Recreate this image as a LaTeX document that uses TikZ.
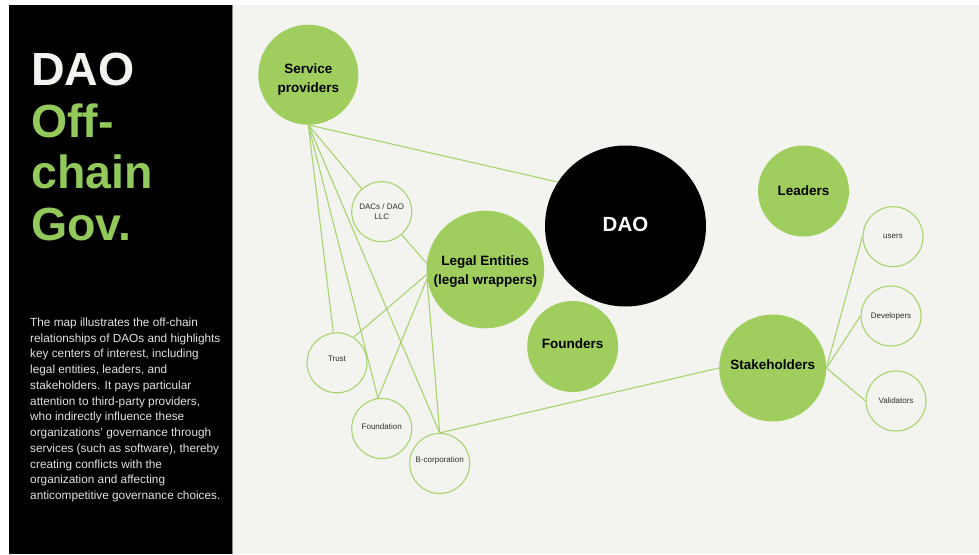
\documentclass[tikz,border=0pt]{standalone}
\usepackage{fontspec}
\setmainfont{Liberation Sans}
\definecolor{bg}{HTML}{F3F3EF}
\definecolor{grn}{HTML}{9FCE5F}
\definecolor{lnk}{HTML}{A8D46F}
\definecolor{ttlgrn}{HTML}{93C95B}
\definecolor{ttlwhite}{HTML}{F2F2EE}
\definecolor{bodygray}{HTML}{E2E2E2}
\definecolor{txtgray}{HTML}{2E2E2E}
\definecolor{sepgray}{HTML}{8A8A8A}
\newcommand{\rb}[2]{\raisebox{#1}[0pt][0pt]{#2}}
\begin{document}
\begin{tikzpicture}[x=1pt,y=-1pt,
  big/.style={circle, fill=grn, inner sep=0pt, text=black, align=center,
    font=\bfseries\fontsize{13.5}{19}\selectfont},
  small/.style={circle, draw=lnk, line width=1.1pt, fill=bg, minimum size=60pt,
    inner sep=0pt, text=txtgray, align=center, font=\fontsize{8}{10.7}\selectfont},
  link/.style={draw=lnk, line width=1.1pt},
  title/.style={anchor=base west, inner sep=0pt, font=\bfseries\fontsize{46.5}{52}\selectfont}]
\useasboundingbox (0,0) rectangle (979,554);
\fill[white] (0,0) rectangle (979,554);
\fill[bg] (9,5) rectangle (979,554);
\fill[black] (9,5) rectangle (232,554);
\draw[sepgray, line width=1pt] (232.5,5) -- (232.5,554);

% title
\node[title, text=ttlwhite] (t1) at (31,85) {DAO};
\node[title, text=ttlgrn] (t2) at (31,137) {Off-};
\node[title, text=ttlgrn] (t3) at (31,188) {chain};
\node[title, text=ttlgrn] (t4) at (31,240) {Gov.};

% body text
\node[anchor=north west, inner sep=0pt, align=left, text=bodygray,
  font=\fontsize{11.8}{15.75}\selectfont] (body) at (30,317.5)
  {The map illustrates the off-chain\\relationships of DAOs and highlights\\key centers of interest, including\\legal entities, leaders, and\\stakeholders. It pays particular\\attention to third-party providers,\\who indirectly influence these\\organizations' governance through\\services (such as software), thereby\\creating conflicts with the\\organization and affecting\\anticompetitive governance choices.};

% main circles
\node[big, minimum size=100pt, text height=35.2pt, text depth=0pt] (sp) at (308.3,74.7) {Service\\providers};
\node[circle, fill=black, minimum size=161pt, inner sep=0pt, text=white,
  font=\bfseries\fontsize{20.5}{24}\selectfont] (dao) at (625.5,226) {\rb{-5pt}{DAO}};
\node[big, minimum size=91pt] (lead) at (803.5,191) {\rb{-4pt}{Leaders}};
\node[big, minimum size=117.6pt, text height=30.4pt, text depth=0pt] (le) at (485.3,269.5) {Legal Entities\\(legal wrappers)};
\node[big, minimum size=91pt] (fnd) at (572.7,346.5) {\rb{-1.5pt}{Founders}};
\node[big, minimum size=107pt] (sh) at (772.7,368) {\rb{-1pt}{Stakeholders}};

% small circles
\node[small] (dacs) at (381.7,211.7) {DACs / DAO\\LLC};
\node[small] (trust) at (337,362.8) {\rb{1pt}{Trust}};
\node[small] (fdn) at (381.7,428.5) {\rb{-1pt}{Foundation}};
\node[small] (bcorp) at (439.7,463.5) {\rb{1pt}{B-corporation}};
\node[small] (users) at (893,236.7) {\rb{-1.6pt}{users}};
\node[small] (dev) at (891,316) {\rb{-2.3pt}{Developers}};
\node[small] (val) at (896,401) {\rb{-2.3pt}{Validators}};

% connectors
\draw[link] (sp.south) -- (dao.147);
\draw[link] (sp.south) -- (dacs.131);
\draw[link] (sp.south) -- (trust.97);
\draw[link] (sp.south) -- (fdn.97);
\draw[link] (sp.south) -- (bcorp.north);
\draw[link] (dacs.311) -- (le.174);
\draw[link] (le.185) -- (trust.57);
\draw[link] (le.189) -- (fdn.97);
\draw[link] (le.189) -- (bcorp.north);
\draw[link] (bcorp.north) -- (sh.180);
\draw[link] (sh.east) -- (users.west);
\draw[link] (sh.east) -- (dev.west);
\draw[link] (sh.east) -- (val.west);
\end{tikzpicture}
\end{document}
